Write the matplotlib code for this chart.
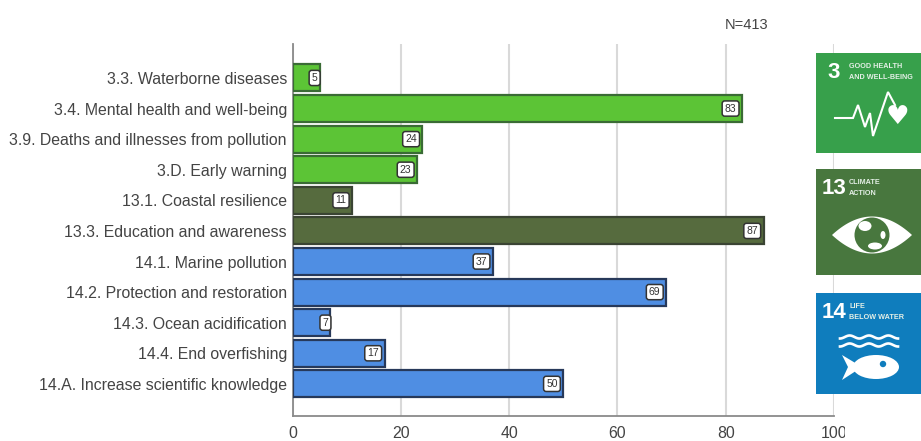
import numpy as np
import matplotlib
matplotlib.use('Agg')
import matplotlib.pyplot as plt
from matplotlib.patches import Rectangle, Polygon, Circle, Ellipse

plt.rcParams['font.family'] = ['Liberation Sans', 'DejaVu Sans']

targets = ['3.3. Waterborne diseases', '3.4. Mental health and well-being',
           '3.9. Deaths and illnesses from pollution', '3.D. Early warning',
           '13.1. Coastal resilience', '13.3. Education and awareness',
           '14.1. Marine pollution', '14.2. Protection and restoration',
           '14.3. Ocean acidification', '14.4. End overfishing',
           '14.A. Increase scientific knowledge']
counts = [5, 83, 24, 23, 11, 87, 37, 69, 7, 17, 50]
goals = [3, 3, 3, 3, 13, 13, 14, 14, 14, 14, 14]

fill_colors = {3: '#5cc436', 13: '#566b3e', 14: '#4f8ee3'}
edge_colors = {3: '#3a6b35', 13: '#3a4433', 14: '#27395a'}
text_color = '#444444'

W, H = 921, 441
fig = plt.figure(figsize=(W / 100, H / 100), dpi=100)

# chart area, positions in pixels of the reference
left, right, top, bottom = 292.5, 834, 44, 416
ax = fig.add_axes([left / W, 1 - bottom / H, (right - left) / W, (bottom - top) / H])

y = np.arange(len(targets))
ax.barh(y, counts, height=0.88,
        color=[fill_colors[g] for g in goals],
        edgecolor=[edge_colors[g] for g in goals], linewidth=1.6, zorder=3)
ax.set_xlim(0, 100)
ax.set_ylim(11.05, -1.11)
ax.set_yticks(y)
ax.set_yticklabels(targets)
ax.set_xticks([0, 20, 40, 60, 80, 100])
ax.tick_params(axis='y', length=0, pad=4, labelsize=11.4, labelcolor=text_color)
ax.tick_params(axis='x', length=0, pad=7, labelsize=11.4, labelcolor=text_color)
ax.xaxis.grid(True, color='#d9d9d9', linewidth=1.5, zorder=0)
ax.set_axisbelow(True)
for s in ['top', 'right']:
    ax.spines[s].set_visible(False)
for s in ['left', 'bottom']:
    ax.spines[s].set_color('#8a8a8a')
    ax.spines[s].set_linewidth(1.3)

# value boxes
for yi, c in zip(y, counts):
    off = -1.5 if c < 10 else -4
    ax.annotate(str(c), (c, yi), xytext=(off, 0), textcoords='offset points',
                ha='right', va='center', fontsize=7.5, color='#333333', zorder=5,
                bbox=dict(boxstyle='round,pad=0.25', fc='white', ec='#333333', lw=1.1))

fig.text(747 / W, 1 - 25 / H, 'N=413', ha='center', va='center', fontsize=10.5, color=text_color)

# overlay in pixel coordinates for the SDG icons
ov = fig.add_axes([0, 0, 1, 1], facecolor='none')
ov.set_xlim(0, W)
ov.set_ylim(H, 0)
ov.axis('off')

# the last tick label is cut off in the reference
ov.add_patch(Rectangle((845, 418), 76, 23, fc='white', ec='none'))


def icon(y0, y1, color, num, title):
    ov.add_patch(Rectangle((816, y0), 105, y1 - y0, fc=color, ec='none'))
    ov.text(833.5, y0 + 19, num, color='white', fontsize=16, fontweight='bold',
            ha='center', va='center')
    ov.text(849, y0 + 19, title, color='#e4efe6', fontsize=5.2, fontweight='bold',
            ha='left', va='center', linespacing=1.7)


icon(53, 153, '#37a04b', '3', 'GOOD HEALTH\nAND WELL-BEING')
icon(169, 275, '#48773e', '13', 'CLIMATE\nACTION')
icon(293, 394, '#0f7dbd', '14', 'LIFE\nBELOW WATER')

# heartbeat line and heart
ov.plot([835, 853, 858, 865, 870, 873, 888, 895],
        [118, 118, 105, 127, 113, 136, 92, 105],
        color='white', lw=1.5, solid_joinstyle='miter')
ov.text(897, 117, '\u2665', color='white', fontsize=19, ha='center', va='center',
        family='DejaVu Sans')

# eye with globe
t = np.linspace(-1, 1, 60)
ov.add_patch(Polygon(np.r_[np.c_[872 + 40 * t, 235 - 18.5 * (1 - t ** 2)],
                           np.c_[872 - 40 * t, 235 + 18.5 * (1 - t ** 2)]], fc='white', ec='none'))
ov.add_patch(Circle((872, 235), 17.5, fc='#48773e', ec='none'))
ov.add_patch(Ellipse((865, 226), 13, 10, fc='white', ec='none'))
ov.add_patch(Ellipse((875, 246), 14, 7, fc='white', ec='none'))
ov.add_patch(Ellipse((883, 235), 5, 8, fc='white', ec='none'))

# waves and fish
wx = np.linspace(840, 898, 120)
for wy in [337, 345]:
    ov.plot(wx, wy + 1.5 * np.cos((wx - 840) / 58 * 2 * np.pi * 3), color='white', lw=1.9)
ov.add_patch(Ellipse((876, 367), 46, 24, fc='white', ec='none'))
ov.add_patch(Polygon([[862, 367], [842, 355], [848, 367], [842, 380]], fc='white', ec='none'))
ov.add_patch(Circle((883, 364), 3.2, fc='#0f7dbd', ec='none'))

fig.savefig('out.png', dpi=100)
